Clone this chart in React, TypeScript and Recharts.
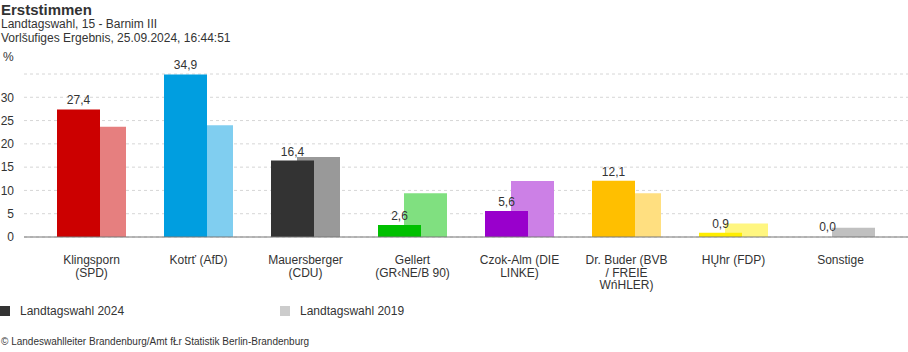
import React from 'react'
import { Bar, BarChart, CartesianGrid, Cell, LabelList, XAxis, YAxis } from 'recharts'

const FONT = '"Liberation Sans", Arial, sans-serif'

const candidates = [
  'Klingsporn\n(SPD)',
  'Kotrť (AfD)',
  'Mauersberger\n(CDU)',
  'Gellert\n(GR‹NE/B 90)',
  'Czok-Alm (DIE\nLINKE)',
  'Dr. Buder (BVB\n/ FREIE\nWńHLER)',
  'HŲhr (FDP)',
  'Sonstige',
]
const votes2024 = [27.4, 34.9, 16.4, 2.6, 5.6, 12.1, 0.9, 0.0]
const votes2019 = [23.7, 24.0, 17.2, 9.4, 12.0, 9.4, 2.9, 2.0]
const colors2024 = ['#cc0000', '#009ee0', '#333333', '#00c000', '#9900cc', '#ffbf00', '#ffed00', '#999999']
const colors2019 = ['#e67f7f', '#80cef0', '#999999', '#80e080', '#cc80e6', '#ffdf80', '#fff680', '#c0c0c0']
const yTicks = [0, 5, 10, 15, 20, 25, 30]

const data = candidates.map((name, i) => ({
  name,
  v2024: votes2024[i],
  v2019: votes2019[i],
}))

const styles = {
  page: {
    position: 'absolute' as 'absolute',
    left: 0,
    top: 0,
    width: 908,
    height: 352,
    fontFamily: FONT,
    color: '#333',
    background: '#fff',
    overflow: 'hidden',
  },
  title: { position: 'absolute' as 'absolute', left: 1, top: 1, fontSize: 15, fontWeight: 'bold' as 'bold', lineHeight: '18px', color: '#333' },
  sub1: { position: 'absolute' as 'absolute', left: 1, top: 17, fontSize: 12, lineHeight: '14px' },
  sub2: { position: 'absolute' as 'absolute', left: 1, top: 31, fontSize: 12, lineHeight: '14px' },
  unit: { position: 'absolute' as 'absolute', left: 3, top: 50, fontSize: 12, lineHeight: '14px' },
  chart: { position: 'absolute' as 'absolute', left: 0, top: 0 },
  legendItem: { position: 'absolute' as 'absolute', top: 304, fontSize: 12, lineHeight: '14px', display: 'flex', alignItems: 'center' },
  footer: { position: 'absolute' as 'absolute', left: 1, top: 336, fontSize: 10, lineHeight: '12px' },
}

const CandidateTick = (props: any) => {
  const { x, y, payload } = props
  const lines = String(payload.value).split('\n')
  return (
    <g transform={`translate(${x},${y})`}>
      <text textAnchor="middle" fill="#333" fontSize={12} fontFamily={FONT}>
        {lines.map((line, i) => (
          <tspan key={i} x={0} y={19 + i * 12.5}>
            {line}
          </tspan>
        ))}
      </text>
    </g>
  )
}

const App: React.FC = () => {
  return (
    <div style={styles.page}>
      <div style={styles.title}>Erststimmen</div>
      <div style={styles.sub1}>Landtagswahl, 15 - Barnim III</div>
      <div style={styles.sub2}>Vorlšufiges Ergebnis, 25.09.2024, 16:44:51</div>
      <div style={styles.unit}>%</div>
      <div style={styles.chart}>
        <BarChart width={908} height={300} data={data} margin={{ top: 74, right: 0, bottom: 13, left: 0 }}>
          <CartesianGrid vertical={false} xAxisId="main" stroke="#d6d6d6" strokeDasharray="3 3" />
          <XAxis xAxisId="a" dataKey="name" hide height={0} padding={{ left: 1, right: 27 }} />
          <XAxis xAxisId="b" dataKey="name" hide height={0} padding={{ left: 27, right: 1 }} />
          <XAxis
            xAxisId="main"
            dataKey="name"
            height={50}
            padding={{ left: 14, right: 14 }}
            tickLine={false}
            axisLine={{ stroke: '#777' }}
            tick={<CandidateTick />}
            interval={0}
          />
          <YAxis
            width={24}
            domain={[0, 35]}
            ticks={yTicks}
            axisLine={false}
            tickLine={false}
            tickMargin={4}
            tick={{ fill: '#333', fontSize: 12, fontFamily: FONT }}
          />
          <Bar dataKey="v2019" xAxisId="b" barSize={43} isAnimationActive={false}>
            {data.map((_, i) => (
              <Cell key={i} fill={colors2019[i]} />
            ))}
          </Bar>
          <Bar
            dataKey="v2024"
            xAxisId="a"
            barSize={43}
            minPointSize={(v: any) => (Number(v) === 0 ? 1 : 0)}
            isAnimationActive={false}
          >
            {data.map((d, i) => (
              <Cell key={i} fill={d.v2024 === 0 ? 'transparent' : colors2024[i]} />
            ))}
            <LabelList
              dataKey="v2024"
              position="top"
              offset={5}
              fill="#333"
              fontSize={12}
              fontFamily={FONT}
              formatter={(v: any) => Number(v).toFixed(1).replace('.', ',')}
            />
          </Bar>
        </BarChart>
      </div>
      <div style={{ ...styles.legendItem, left: 0 }}>
        <span style={{ display: 'inline-block', width: 10, height: 10, background: '#333', marginRight: 10 }} />
        Landtagswahl 2024
      </div>
      <div style={{ ...styles.legendItem, left: 280 }}>
        <span style={{ display: 'inline-block', width: 10, height: 10, background: '#cccccc', marginRight: 10 }} />
        Landtagswahl 2019
      </div>
      <div style={styles.footer}>© Landeswahlleiter Brandenburg/Amt fŁr Statistik Berlin-Brandenburg</div>
    </div>
  )
}

export default App
